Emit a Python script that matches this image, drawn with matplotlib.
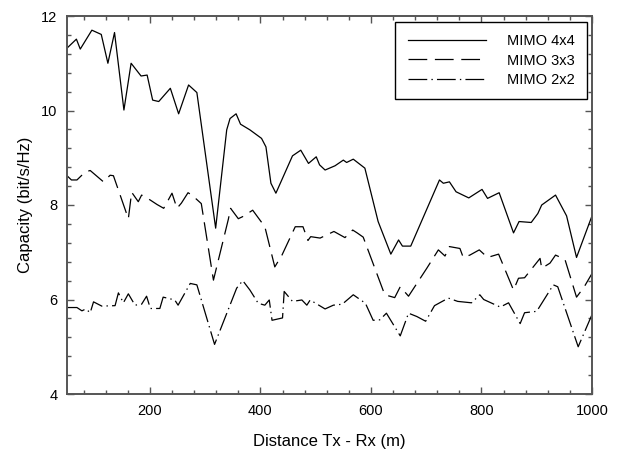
import matplotlib
matplotlib.use("Agg")
import matplotlib.pyplot as plt
from matplotlib.ticker import MultipleLocator

plt.rcParams['font.family'] = ['Liberation Sans', 'DejaVu Sans']
plt.rcParams['lines.scale_dashes'] = False

# MIMO 4x4
x4 = [50, 67, 74, 95, 112, 124, 136, 153, 166, 184, 195, 205, 216, 237, 252, 270, 285,
      319, 339, 345, 356, 364, 381, 402, 410, 419, 428, 458, 473, 487, 501, 507, 517,
      535, 550, 556, 568, 589, 613, 636, 650, 657, 672, 724, 731, 742, 754, 777, 801,
      811, 832, 858, 868, 890, 902, 909, 934, 954, 972, 1000]
y4 = [11.32, 11.51, 11.30, 11.70, 11.61, 11.00, 11.65, 10.01, 11.00, 10.73, 10.75, 10.22,
      10.19, 10.47, 9.93, 10.54, 10.38, 7.51, 9.59, 9.83, 9.93, 9.71, 9.59, 9.41, 9.23,
      8.46, 8.25, 9.04, 9.16, 8.88, 9.02, 8.85, 8.74, 8.83, 8.95, 8.90, 8.97, 8.78, 7.65,
      6.96, 7.26, 7.13, 7.13, 8.53, 8.46, 8.49, 8.28, 8.15, 8.33, 8.14, 8.26, 7.41, 7.65,
      7.63, 7.82, 8.00, 8.21, 7.77, 6.89, 7.77]

# MIMO 3x3
x3 = [50, 58, 68, 83, 92, 116, 128, 134, 161, 167, 179, 185, 200, 213, 225, 240, 249,
      257, 269, 276, 293, 315, 342, 346, 360, 369, 386, 408, 426, 439, 463, 477, 486,
      491, 508, 533, 553, 567, 575, 586, 625, 643, 653, 668, 701, 722, 734, 742, 761,
      767, 779, 796, 811, 831, 858, 867, 878, 906, 909, 924, 934, 951, 972, 986, 1000]
y3 = [8.62, 8.53, 8.53, 8.70, 8.73, 8.49, 8.63, 8.62, 7.71, 8.27, 8.07, 8.21, 8.11, 8.01,
      7.93, 8.25, 7.93, 8.04, 8.26, 8.21, 8.03, 6.41, 7.70, 7.93, 7.71, 7.76, 7.89, 7.54,
      6.69, 6.94, 7.54, 7.54, 7.25, 7.33, 7.30, 7.44, 7.31, 7.47, 7.41, 7.32, 6.10, 6.04,
      6.27, 6.07, 6.66, 7.05, 6.92, 7.12, 7.08, 6.89, 6.94, 7.05, 6.89, 6.96, 6.20, 6.45,
      6.46, 6.87, 6.66, 6.77, 6.94, 6.85, 6.05, 6.27, 6.55]

# MIMO 2x2
x2 = [50, 68, 77, 84, 92, 98, 113, 137, 143, 152, 161, 173, 185, 194, 199, 201, 218,
      224, 245, 251, 273, 285, 317, 357, 368, 381, 396, 408, 416, 421, 440, 443, 458,
      475, 484, 490, 517, 532, 548, 568, 590, 604, 616, 628, 653, 668, 683, 699, 715,
      740, 757, 782, 797, 804, 834, 849, 870, 878, 900, 930, 938, 975, 1000]
y2 = [5.83, 5.83, 5.76, 5.80, 5.72, 5.95, 5.86, 5.87, 6.14, 5.93, 6.12, 5.88, 5.90, 6.07,
      5.88, 5.81, 5.81, 6.05, 5.99, 5.88, 6.34, 6.31, 5.05, 6.24, 6.40, 6.20, 5.92, 5.88,
      5.99, 5.56, 5.61, 6.17, 5.96, 5.99, 5.88, 5.99, 5.80, 5.88, 5.90, 6.10, 5.92, 5.56,
      5.57, 5.71, 5.23, 5.71, 5.64, 5.54, 5.87, 6.03, 5.96, 5.93, 6.10, 6.00, 5.84, 5.93,
      5.49, 5.72, 5.75, 6.31, 6.27, 5.00, 5.68]

labels = ['MIMO 4x4', 'MIMO 3x3', 'MIMO 2x2']

fig = plt.figure(figsize=(6.2, 4.51), dpi=100)
ax = fig.add_axes([67/620, 1-394/451, 525/620, 378/451])

lw = 0.9
ax.plot(x4, y4, color='black', lw=lw, linestyle='-', label=labels[0])
ax.plot(x3, y3, color='black', lw=lw, linestyle=(0, (13.5, 5.5)), label=labels[1])
ax.plot(x2, y2, color='black', lw=lw, linestyle=(0, (13.5, 3, 1, 3)), label=labels[2])

ax.set_xlim(50, 1000)
ax.set_ylim(4, 12)
ax.xaxis.set_major_locator(MultipleLocator(200))
ax.xaxis.set_minor_locator(MultipleLocator(40))
ax.yaxis.set_major_locator(MultipleLocator(2))
ax.yaxis.set_minor_locator(MultipleLocator(0.4))

ax.tick_params(which='both', direction='in', top=True, right=True, colors='#555555',
               labelcolor='black', labelsize=10.5)
ax.tick_params(which='major', length=5, width=1, pad=7)
ax.tick_params(which='minor', length=3, width=1)
for s in ax.spines.values():
    s.set_color('#555555')
    s.set_linewidth(1.4)

ax.set_xlabel('Distance Tx - Rx (m)', fontsize=12, labelpad=12)
ax.set_ylabel('Capacity (bit/s/Hz)', fontsize=12, labelpad=6)

leg = ax.legend(loc='upper right', bbox_to_anchor=((587-67)/525, (394-22)/378),
                borderaxespad=0, fontsize=10.5, handlelength=5.4, handletextpad=1.4,
                labelspacing=0.35, fancybox=False, framealpha=1, edgecolor='black',
                borderpad=0.85)
leg.get_frame().set_linewidth(1.0)

fig.savefig('out.png', dpi=100)
